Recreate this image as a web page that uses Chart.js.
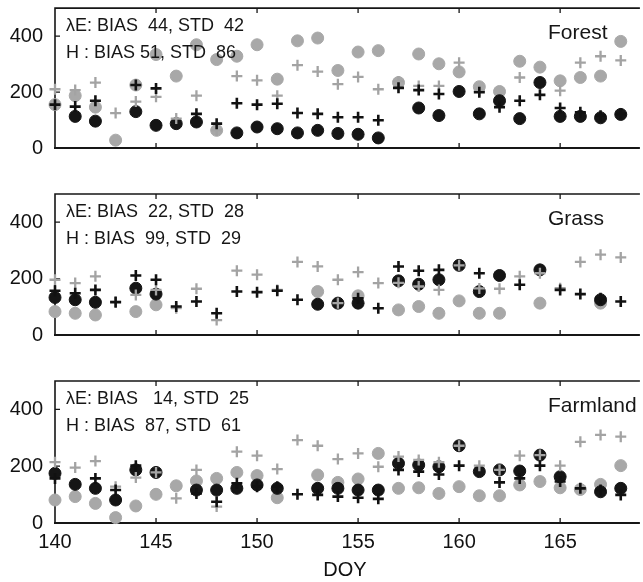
<!DOCTYPE html>
<html>
<head>
<meta charset="utf-8">
<script src="https://cdn.jsdelivr.net/npm/chart.js@4.4.1/dist/chart.umd.min.js"></script>
<style>
  body { margin: 0; background: #fff; }
  #wrap { position: relative; width: 643px; height: 582px; overflow: hidden; }
  #wrap canvas { position: absolute; left: 0; top: 0; }
</style>
</head>
<body>
<div id="wrap">
  <canvas id="forest" width="643" height="582"></canvas>
  <canvas id="grass" width="643" height="582"></canvas>
  <canvas id="farm" width="643" height="582"></canvas>
</div>
<script>
// day of year, 140..168
var days = [140,141,142,143,144,145,146,147,148,149,150,151,152,153,154,155,156,157,158,159,160,161,162,163,164,165,166,167,168];
var xTicks = [140, 145, 150, 155, 160, 165];
var yTicks = [0, 200, 400];

// Forest (W/m2): LE observed/modelled, H observed/modelled
var forestLeObs = [null,113,96,null,130,81,87,93,null,54,75,69,54,63,52,49,36,null,143,116,202,122,169,105,234,113,113,108,120];
var forestLeMod = [155,148,169,null,225,213,null,122,87,160,155,158,125,122,110,110,99,215,207,193,null,199,146,169,190,143,128,115,122];
var forestHObs  = [155,187,146,28,225,334,257,369,316,328,369,246,383,393,277,343,348,234,336,301,272,219,202,310,289,240,252,257,381];
var forestHMod  = [210,207,234,125,166,183,105,187,63,257,242,187,296,273,228,254,210,238,222,222,305,205,null,252,null,205,305,328,313];
var forestHObsExtra = [[148, 63]];

// Grass
var grassLeObs = [133,125,116,null,166,145,null,null,null,null,null,null,null,109,113,113,null,192,180,196,247,154,211,null,231,null,null,125,null];
var grassLeMod = [157,148,160,116,211,196,101,119,77,154,152,157,125,null,null,130,95,243,228,231,null,219,null,178,null,160,145,130,119];
var grassHObs  = [83,77,71,null,83,107,null,null,null,null,null,null,null,154,null,139,null,89,101,77,121,77,77,null,113,null,null,113,null];
var grassHMod  = [196,184,208,119,142,160,95,164,53,228,214,160,259,243,196,223,184,185,172,160,247,165,164,208,219,166,259,285,275];
var grassHModExtra = [[154, 113]];

// Farmland
var farmLeObs = [175,136,122,81,187,178,null,116,116,122,134,122,null,122,122,116,116,210,204,198,272,181,187,183,239,163,null,110,122];
var farmLeMod = [157,null,157,116,202,null,null,104,75,140,128,128,101,99,93,89,85,187,181,171,202,null,143,157,202,146,122,116,99];
var farmHObs  = [81,93,69,19,60,101,131,148,157,178,167,89,null,169,143,155,245,122,124,104,128,96,96,134,146,124,118,136,202];
var farmHMod  = [214,195,218,128,160,178,87,187,58,251,237,190,292,272,225,245,198,234,222,214,272,202,187,237,239,202,286,310,304];

var forestStats = ['λE: BIAS  44, STD  42', 'H : BIAS 51, STD  86'];
var grassStats  = ['λE: BIAS  22, STD  28', 'H : BIAS  99, STD  29'];
var farmStats   = ['λE: BIAS   14, STD  25', 'H : BIAS  87, STD  61'];

Chart.defaults.font.family = '"Liberation Sans", Arial, sans-serif';
Chart.defaults.color = '#111';

function toPoints(vals, extra) {
  var out = [];
  days.forEach(function(d, i) {
    if (vals[i] != null) out.push({ x: d, y: vals[i] });
  });
  (extra || []).forEach(function(p) { out.push({ x: p[0], y: p[1] }); });
  return out;
}

// box, inward ticks and the text inside each panel
var framePlugin = {
  id: 'frame',
  beforeDatasetsDraw: function(chart) {
    var ctx = chart.ctx, a = chart.chartArea, x = chart.scales.x, y = chart.scales.y;
    ctx.save();
    ctx.strokeStyle = '#161616';
    ctx.lineWidth = 1.6;
    ctx.beginPath();
    ctx.moveTo(a.right + 5, a.top);
    ctx.lineTo(a.left, a.top);
    ctx.lineTo(a.left, a.bottom);
    ctx.stroke();
    ctx.lineWidth = 2.2;
    ctx.beginPath();
    ctx.moveTo(a.left - 1, a.bottom);
    ctx.lineTo(a.right + 5, a.bottom);
    ctx.stroke();
    ctx.lineWidth = 1.3;
    ctx.beginPath();
    xTicks.slice(1).forEach(function(v) {
      var px = x.getPixelForValue(v);
      ctx.moveTo(px, a.bottom); ctx.lineTo(px, a.bottom - 5);
      ctx.moveTo(px, a.top); ctx.lineTo(px, a.top + 5);
    });
    yTicks.slice(1).forEach(function(v) {
      var py = y.getPixelForValue(v);
      ctx.moveTo(a.left, py); ctx.lineTo(a.left + 5, py);
    });
    ctx.stroke();
    ctx.restore();
  },
  afterDraw: function(chart, args, opts) {
    var ctx = chart.ctx, a = chart.chartArea;
    ctx.save();
    ctx.fillStyle = '#161616';
    ctx.textBaseline = 'alphabetic';
    ctx.font = '18px "Liberation Sans", Arial, sans-serif';
    opts.stats.forEach(function(s, i) {
      ctx.fillText(s, a.left + 11, a.top + 23 + i * 27);
    });
    ctx.font = '21px "Liberation Sans", Arial, sans-serif';
    ctx.fillText(opts.title, 548, a.top + 31);
    ctx.restore();
  }
};

function makePanel(id, top, bottom, title, stats, leObs, leMod, hObs, hMod, showX) {
  return new Chart(document.getElementById(id), {
    type: 'scatter',
    data: {
      datasets: [
        { label: 'λE model', data: toPoints(leMod), pointStyle: 'cross', pointRadius: 5.5,
          borderColor: '#111', borderWidth: 2.6, clip: false },
        { label: 'H model', data: toPoints(hMod.vals, hMod.extra), pointStyle: 'cross', pointRadius: 5.5,
          borderColor: '#a3a3a3', borderWidth: 2.3, clip: false },
        { label: 'λE obs', data: toPoints(leObs), pointStyle: 'circle', pointRadius: 6,
          backgroundColor: '#151515', borderColor: '#151515', borderWidth: 1, clip: false },
        { label: 'H obs', data: toPoints(hObs.vals, hObs.extra), pointStyle: 'circle', pointRadius: 6,
          backgroundColor: '#a8a8a8', borderColor: '#a8a8a8', borderWidth: 1, clip: false }
      ]
    },
    options: {
      responsive: false,
      animation: false,
      devicePixelRatio: 1,
      events: [],
      layout: { padding: { top: top, left: 0, right: 0, bottom: 0 } },
      plugins: {
        legend: { display: false },
        tooltip: { enabled: false },
        frame: { title: title, stats: stats }
      },
      scales: {
        x: {
          type: 'linear', min: 140, max: 168.7,
          grid: { display: false, drawTicks: false },
          border: { display: false },
          afterBuildTicks: function(s) { s.ticks = xTicks.map(function(v) { return { value: v }; }); },
          afterFit: function(s) { s.height = 582 - bottom; s.paddingLeft = 0; s.paddingRight = 0; },
          ticks: { display: showX, padding: 7, font: { size: 20 }, color: '#111' },
          title: { display: showX, text: 'DOY', font: { size: 20 }, color: '#111', padding: { top: 8, bottom: 0 } }
        },
        y: {
          min: 0, max: 500,
          grid: { display: false, drawTicks: false },
          border: { display: false },
          afterBuildTicks: function(s) { s.ticks = yTicks.map(function(v) { return { value: v }; }); },
          afterFit: function(s) { s.width = 55; s.paddingTop = 0; s.paddingBottom = 0; },
          ticks: { padding: 12, font: { size: 20 }, color: '#111' }
        }
      }
    },
    plugins: [framePlugin]
  });
}

makePanel('forest', 6, 148, 'Forest', forestStats,
  forestLeObs, forestLeMod, { vals: forestHObs, extra: forestHObsExtra }, { vals: forestHMod }, false);
makePanel('grass', 194, 335, 'Grass', grassStats,
  grassLeObs, grassLeMod, { vals: grassHObs }, { vals: grassHMod, extra: grassHModExtra }, false);
makePanel('farm', 381, 523, 'Farmland', farmStats,
  farmLeObs, farmLeMod, { vals: farmHObs }, { vals: farmHMod }, true);
</script>
</body>
</html>
